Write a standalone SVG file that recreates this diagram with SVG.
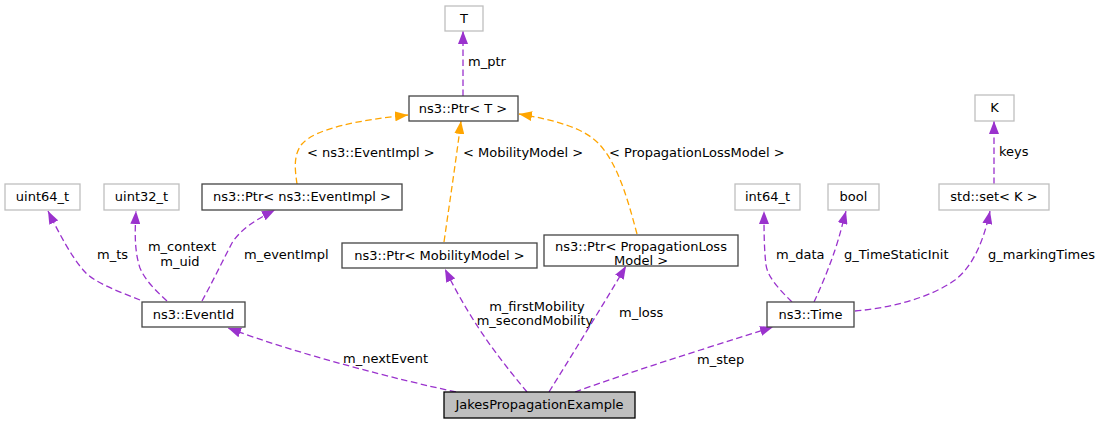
<svg xmlns="http://www.w3.org/2000/svg" width="1103" height="424" viewBox="0 0 1103 424">
<style>
text{font-family:"DejaVu Sans",sans-serif;font-size:13px;fill:#000}
.n text{text-anchor:middle}
.doc{fill:#fff;stroke:#444;stroke-width:1.3}
.und{fill:#fff;stroke:#bfbfbf;stroke-width:1.3}
.root{fill:#bfbfbf;stroke:#000;stroke-width:1.3}
.p{fill:none;stroke:#9a32cd;stroke-width:1.3;stroke-dasharray:6.5,3.5;marker-end:url(#ap)}
.o{fill:none;stroke:#ffa500;stroke-width:1.3;stroke-dasharray:6.5,3.5;marker-end:url(#ao)}
</style>
<defs>
<marker id="ap" markerUnits="userSpaceOnUse" markerWidth="13" markerHeight="10" viewBox="0 0 13 10" refX="13" refY="5" orient="auto"><path d="M0,0 L13,5 L0,10 z" fill="#9a32cd"/></marker>
<marker id="ao" markerUnits="userSpaceOnUse" markerWidth="13" markerHeight="10" viewBox="0 0 13 10" refX="13" refY="5" orient="auto"><path d="M0,0 L13,5 L0,10 z" fill="#ffa500"/></marker>
</defs>
<rect width="1103" height="424" fill="#fff"/>
<g id="edges">
<path class="p" d="M463,96 L463,31"/>
<text x="468" y="66">m_ptr</text>
<path class="o" d="M297,184 C295,170 293,155 302,144 C316,128 360,120 408,115"/>
<text x="307" y="157">&lt; ns3::EventImpl &gt;</text>
<path class="o" d="M444,242 C450,200 456,160 461,121"/>
<text x="463" y="157">&lt; MobilityModel &gt;</text>
<path class="o" d="M637,234 C628,200 618,165 600,145 C585,128 555,120 519,114"/>
<text x="609" y="157">&lt; PropagationLossModel &gt;</text>
<path class="p" d="M140,300 C120,292 95,283 85,272 C72,258 60,235 48,211"/>
<text x="97" y="259">m_ts</text>
<path class="p" d="M167,301 C155,290 145,280 140,268 C134,250 135,230 136,211"/>
<text x="182" y="251" text-anchor="middle">m_context</text>
<text x="180" y="266" text-anchor="middle">m_uid</text>
<path class="p" d="M202,301 C212,283 222,262 232,243 C240,230 255,220 275,210"/>
<text x="244" y="259">m_eventImpl</text>
<path class="p" d="M456,392 C400,380 300,355 228,328"/>
<text x="343" y="363">m_nextEvent</text>
<path class="p" d="M527,392 C505,365 475,330 445,269"/>
<text x="537" y="311" text-anchor="middle">m_firstMobility</text>
<text x="535" y="325" text-anchor="middle">m_secondMobility</text>
<path class="p" d="M549,392 C575,350 600,310 626,266"/>
<text x="619" y="317">m_loss</text>
<path class="p" d="M575,392 C630,372 700,350 773,327"/>
<text x="697" y="364">m_step</text>
<path class="p" d="M792,302 C780,290 768,278 766,265 C764,248 764,230 764,211"/>
<text x="776" y="259">m_data</text>
<path class="p" d="M814,302 C822,285 830,265 835,250 C840,235 843,222 846,211"/>
<text x="844" y="259">g_TimeStaticInit</text>
<path class="p" d="M855,311 C890,308 930,298 955,280 C975,265 985,235 990,211"/>
<text x="988" y="259">g_markingTimes</text>
<path class="p" d="M994,184 L994,121"/>
<text x="999" y="156">keys</text>
</g>
<g id="n_T" class="n"><rect class="und" x="445" y="6" width="38" height="25"/><text x="464" y="23">T</text></g>
<g id="n_PtrT" class="n"><rect class="doc" x="409" y="96" width="109" height="25"/><text x="463" y="113">ns3::Ptr&lt; T &gt;</text></g>
<g id="n_uint64" class="n"><rect class="und" x="5" y="184" width="75" height="26"/><text x="42.5" y="201">uint64_t</text></g>
<g id="n_uint32" class="n"><rect class="und" x="104" y="184" width="75" height="26"/><text x="141.5" y="201">uint32_t</text></g>
<g id="n_PtrEventImpl" class="n"><rect class="doc" x="202" y="184" width="200" height="26"/><text x="302" y="201">ns3::Ptr&lt; ns3::EventImpl &gt;</text></g>
<g id="n_EventId" class="n"><rect class="doc" x="142" y="302" width="103" height="25"/><text x="193.5" y="319">ns3::EventId</text></g>
<g id="n_PtrMobility" class="n"><rect class="doc" x="342" y="243" width="195" height="25"/><text x="439.5" y="260">ns3::Ptr&lt; MobilityModel &gt;</text></g>
<g id="n_PtrLoss" class="n"><rect class="doc" x="544" y="235" width="194" height="31"/><text x="641" y="251">ns3::Ptr&lt; PropagationLoss</text><text x="641" y="265">Model &gt;</text></g>
<g id="n_int64" class="n"><rect class="und" x="735" y="184" width="65" height="26"/><text x="767.5" y="201">int64_t</text></g>
<g id="n_bool" class="n"><rect class="und" x="828" y="184" width="51" height="26"/><text x="853.5" y="201">bool</text></g>
<g id="n_set" class="n"><rect class="und" x="939" y="184" width="110" height="26"/><text x="994" y="201">std::set&lt; K &gt;</text></g>
<g id="n_K" class="n"><rect class="und" x="975" y="95" width="39" height="26"/><text x="994.5" y="112">K</text></g>
<g id="n_Time" class="n"><rect class="doc" x="767" y="302" width="87" height="25"/><text x="810.5" y="319">ns3::Time</text></g>
<g id="n_Jakes" class="n"><rect class="root" x="444" y="392" width="191" height="26"/><text x="539.5" y="409">JakesPropagationExample</text></g>
</svg>
